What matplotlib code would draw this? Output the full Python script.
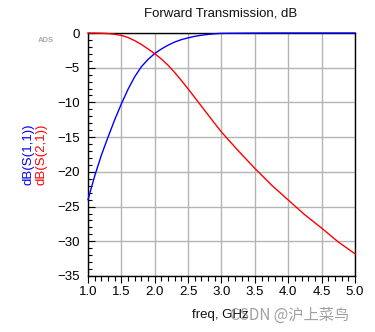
import matplotlib.pyplot as plt
import numpy as np

# curve data (freq in GHz, dB)
freq_s11 = [1.0, 1.1, 1.2, 1.3, 1.4, 1.5, 1.6, 1.7, 1.8, 1.9, 2.0, 2.1, 2.2, 2.3,
            2.4, 2.5, 2.6, 2.7, 2.8, 2.9, 3.0, 3.5, 4.0, 4.5, 5.0]
db_s11 = [-24.0, -20.6, -17.6, -15.0, -12.5, -10.2, -8.1, -6.3, -4.85, -3.8, -2.95,
          -2.3, -1.75, -1.3, -0.95, -0.7, -0.48, -0.32, -0.2, -0.11, -0.05, -0.01,
          0.0, 0.0, 0.0]

freq_s21 = [1.0, 1.1, 1.2, 1.3, 1.4, 1.5, 1.6, 1.7, 1.8, 1.9, 2.0, 2.1, 2.2, 2.3,
            2.4, 2.5, 2.6, 2.7, 2.8, 2.9, 3.0, 3.25, 3.5, 3.75, 4.0, 4.25, 4.5,
            4.75, 5.0]
db_s21 = [0.0, -0.01, -0.03, -0.08, -0.18, -0.35, -0.65, -1.1, -1.65, -2.3, -2.98,
          -3.75, -4.65, -5.7, -6.85, -8.05, -9.3, -10.55, -11.8, -13.05, -14.27,
          -16.95, -19.5, -21.9, -24.06, -26.2, -28.1, -30.1, -31.8]

x_ticks = [1.0, 1.5, 2.0, 2.5, 3.0, 3.5, 4.0, 4.5, 5.0]
y_ticks = [0, -5, -10, -15, -20, -25, -30, -35]

plt.rcParams['font.family'] = ['Liberation Sans', 'DejaVu Sans']

fig = plt.figure(figsize=(3.75, 3.32), dpi=100)
ax = fig.add_axes([88/375, 1-276/332, 267/375, 243/332])

ax.plot(freq_s11, db_s11, color='#0000ff', lw=1.0, clip_on=False, zorder=5)
ax.plot(freq_s21, db_s21, color='#ff0000', lw=1.0, clip_on=False, zorder=5)

ax.set_xlim(1.0, 5.0)
ax.set_ylim(-35, 0)
ax.set_xticks(x_ticks)
ax.set_xticklabels(['%.1f' % v for v in x_ticks])
ax.set_yticks(y_ticks)
ax.set_xticks(np.arange(1.0, 5.01, 0.1), minor=True)
ax.set_yticks(np.arange(-35, 0.1, 1), minor=True)

ax.grid(True, which='major', color='#b4b4b4', lw=1.0)
ax.set_axisbelow(True)
for s in ax.spines.values():
    s.set_color('black')
    s.set_linewidth(1.0)

ax.tick_params(axis='y', which='major', direction='in', length=5, width=0.8,
               labelsize=9.5, pad=6, colors='black')
ax.tick_params(axis='y', which='minor', direction='in', length=3, width=0.8)
ax.tick_params(axis='x', which='major', direction='out', length=5, width=0.8,
               labelsize=9.5, pad=2, colors='black')
ax.tick_params(axis='x', which='minor', direction='out', length=3.5, width=0.8)

fig.text(221/375, 1-14/332, 'Forward Transmission, dB', ha='center', va='center',
         fontsize=9.5, color='#111111')
fig.text(220/375, 1-315/332, 'freq, GHz', ha='center', va='center',
         fontsize=9.5, color='#111111')
fig.text(28.5/375, 1-154/332, 'dB(S(1,1))', rotation=90, ha='center', va='center',
         fontsize=9.5, color='#0000ff')
fig.text(42/375, 1-154/332, 'dB(S(2,1))', rotation=90, ha='center', va='center',
         fontsize=9.5, color='#ff0000')
fig.text(46/375, 1-40/332, 'ADS', ha='center', va='center', fontsize=5.5,
         color='#aaaaaa', fontweight='bold')
fig.text(290/375, 1-315/332, 'CSDN @沪上菜鸟', ha='center', va='center',
         fontsize=11, color='#888888', alpha=0.8,
         family=['Noto Sans CJK SC', 'DejaVu Sans'])

fig.savefig('out.png', dpi=100)
